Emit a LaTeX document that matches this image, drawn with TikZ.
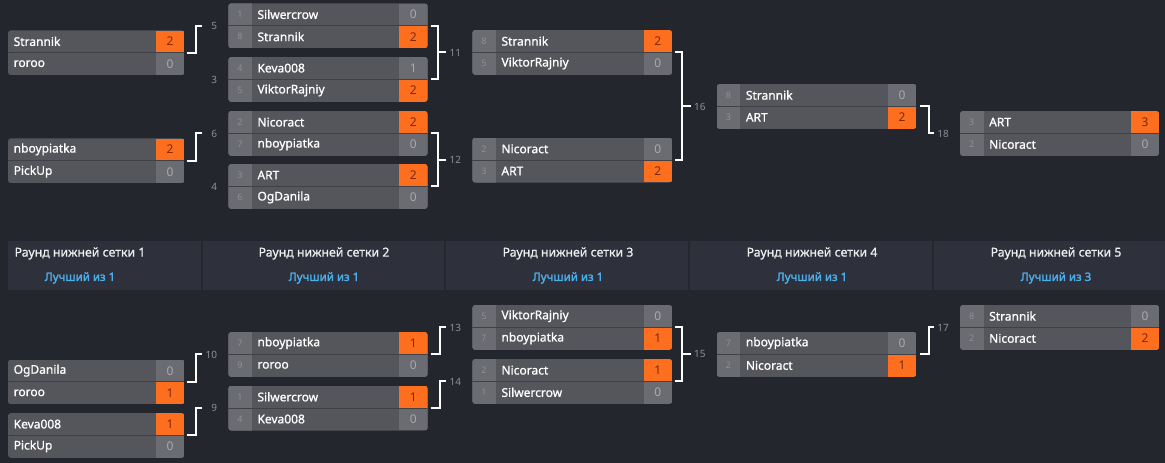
\documentclass[tikz,border=0pt]{standalone}
\usepackage{fontspec}
\setmainfont{Noto Sans}
\newfontfamily\namefont{Noto Sans}[FakeBold=0.9]
\newfontfamily\bestfont{Noto Sans}[FakeBold=2.2]
\usepackage{tikz}
\usetikzlibrary{calc,positioning}
\definecolor{bgdark}{HTML}{24262E}
\definecolor{band}{HTML}{2E313B}
\definecolor{bandline}{HTML}{25272E}
\definecolor{cellmid}{HTML}{55565C}
\definecolor{cellside}{HTML}{6B6C72}
\definecolor{cellsep}{HTML}{404147}
\definecolor{porange}{HTML}{FD6E1F}
\definecolor{wintxt}{HTML}{7A2A0A}
\definecolor{losetxt}{HTML}{A9AAAE}
\definecolor{seedtxt}{HTML}{8F9095}
\definecolor{bestofblue}{HTML}{4DAEEA}

\tikzset{
  boutbox/.style={rectangle, minimum height=44.5pt, inner sep=0pt, anchor=north west},
  player/.style={anchor=west, inner sep=0pt, text=white, font=\namefont\fontsize{12}{14}\selectfont},
  seednum/.style={inner sep=0pt, text=seedtxt, font=\fontsize{9}{10}\selectfont},
  scorecell/.style={minimum width=28.5pt, minimum height=22.25pt, inner sep=0pt,
    anchor=north east, font=\fontsize{12}{14}\selectfont},
  win/.style={fill=porange, text=wintxt},
  lose/.style={fill=cellside, text=losetxt},
  boutno/.style={anchor=east, inner sep=0pt, text=seedtxt, font=\fontsize{10}{12}\selectfont},
  roundtitle/.style={inner sep=0pt, text=white!92!band, font=\namefont\fontsize{12.3}{14}\selectfont},
  bestof/.style={inner sep=0pt, text=bestofblue, font=\bestfont\fontsize{11.5}{14}\selectfont},
  link/.style={draw=white, line width=2pt},
}

% one match: node, top left, width, seed width, rows seed/player/score/win
\newcommand{\bout}[5]{%
  \node[boutbox, minimum width=#3pt] (#1) at #2 {};
  \begin{scope}
    \clip[rounded corners=3pt] (#1.north west) rectangle (#1.south east);
    \fill[cellmid] (#1.north west) rectangle (#1.south east);
    \fill[cellside] (#1.north west) rectangle ($(#1.south west)+(#4,0)$);
    \foreach \s/\p/\g/\w [count=\k from 0] in {#5} {
      \node[scorecell, \w] (#1g\k) at ($(#1.north east)+(0,22.25*\k)$) {\g};
      \node[seednum] (#1s\k) at ($(#1.north west)+(#4/2,11.1+22.25*\k)$) {\s};
      \node[player] (#1p\k) at ($(#1.north west)+(#4+5.5,11.1+22.25*\k)$) {\p};
    }
    \draw[cellsep, line width=1pt] (#1.west) -- (#1.east);
  \end{scope}
}

\begin{document}
\begin{tikzpicture}[x=1pt, y=-1pt]
  \useasboundingbox (0,0) rectangle (1165,463);
  \fill[bgdark] (0,0) rectangle (1165,463);

  % upper bracket
  \bout{u1a}{(8,30.3)}{176}{0}{{}/Strannik/2/win, {}/roroo/0/lose}
  \bout{u1b}{(8,138.3)}{176}{0}{{}/nboypiatka/2/win, {}/PickUp/0/lose}
  \bout{m5}{(228.3,3.3)}{199}{23.5}{1/Silwercrow/0/lose, 8/Strannik/2/win}
  \bout{m3}{(228.3,57)}{199}{23.5}{4/Keva008/1/lose, 5/ViktorRajniy/2/win}
  \bout{m6}{(228.3,111)}{199}{23.5}{2/Nicoract/2/win, 7/nboypiatka/0/lose}
  \bout{m4}{(228.3,164)}{199}{23.5}{3/ART/2/win, 6/OgDanila/0/lose}
  \bout{m11}{(472.3,30)}{199.5}{23.5}{8/Strannik/2/win, 5/ViktorRajniy/0/lose}
  \bout{m12}{(472.3,137.7)}{199.5}{23.5}{2/Nicoract/0/lose, 3/ART/2/win}
  \bout{m16}{(716.7,84)}{199.5}{23.5}{8/Strannik/0/lose, 3/ART/2/win}
  \bout{m18}{(960,111)}{199}{23.5}{3/ART/3/win, 2/Nicoract/0/lose}

  % header of lower bracket
  \fill[band] (8,241) rectangle (1165,290);
  \foreach \x in {202,445,689,933}
    \draw[bandline, line width=1.5pt] (\x,241) -- (\x,290);
  \foreach \c/\r/\b [count=\i] in {80/1/1, 324/2/1, 568/3/1, 812/4/1, 1056/5/3} {
    \node[roundtitle] (r\i) at (\c,253.5) {Раунд нижней сетки \r};
    \node[bestof] (b\i) at (\c,278) {Лучший из \b};
  }

  % lower bracket
  \bout{l1a}{(8,359.5)}{176}{0}{{}/OgDanila/0/lose, {}/roroo/1/win}
  \bout{l1b}{(8,413)}{176}{0}{{}/Keva008/1/win, {}/PickUp/0/lose}
  \bout{m10}{(228.3,332)}{199}{23.5}{7/nboypiatka/1/win, 9/roroo/0/lose}
  \bout{m9}{(228.3,385.7)}{199}{23.5}{1/Silwercrow/1/win, 4/Keva008/0/lose}
  \bout{m13}{(472.3,305)}{199.5}{23.5}{5/ViktorRajniy/0/lose, 7/nboypiatka/1/win}
  \bout{m14}{(472.3,359)}{199.5}{23.5}{2/Nicoract/1/win, 1/Silwercrow/0/lose}
  \bout{m15}{(716.7,332)}{199.5}{23.5}{7/nboypiatka/0/lose, 2/Nicoract/1/win}
  \bout{m17}{(960,305)}{199}{23.5}{8/Strannik/0/lose, 2/Nicoract/2/win}

  % match numbers
  \foreach \b in {5,3,6,4,11,12,16,18,10,9,13,14,15,17}
    \node[boutno] (n\b) at ([xshift=-11pt]m\b.west) {\b};

  % single links
  \draw[link] ([xshift=3pt]u1a.east) -- ++(9,0) |- ([xshift=-26pt]m5.west);
  \draw[link] ([xshift=3pt]u1b.east) -- ++(9,0) |- ([xshift=-26pt]m6.west);
  \draw[link] ([xshift=3pt]m16.east) -- ++(9,0) |- ([xshift=-26pt]m18.west);
  \draw[link] ([xshift=3pt]l1a.east) -- ++(9,0) |- ([xshift=-26pt]m10.west);
  \draw[link] ([xshift=3pt]l1b.east) -- ++(9,0) |- ([xshift=-26pt]m9.west);
  \draw[link] ([xshift=3pt]m10.east) -- ++(9,0) |- ([xshift=-26pt]m13.west);
  \draw[link] ([xshift=3pt]m9.east) -- ++(9,0) |- ([xshift=-26pt]m14.west);
  \draw[link] ([xshift=3pt]m15.east) -- ++(9,0) |- ([xshift=-26pt]m17.west);
  % pair links
  \draw[link] ([xshift=3pt]m5.east) -- ++(7,0) |- ([xshift=3pt]m3.east);
  \draw[link] ([xshift=-26pt]m11.west) -- ++(-9,0);
  \draw[link] ([xshift=3pt]m6.east) -- ++(7,0) |- ([xshift=3pt]m4.east);
  \draw[link] ([xshift=-26pt]m12.west) -- ++(-9,0);
  \draw[link] ([xshift=3pt]m11.east) -- ++(7,0) |- ([xshift=3pt]m12.east);
  \draw[link] ([xshift=-26pt]m16.west) -- ++(-9,0);
  \draw[link] ([xshift=3pt]m13.east) -- ++(7,0) |- ([xshift=3pt]m14.east);
  \draw[link] ([xshift=-26pt]m15.west) -- ++(-9,0);
\end{tikzpicture}
\end{document}
